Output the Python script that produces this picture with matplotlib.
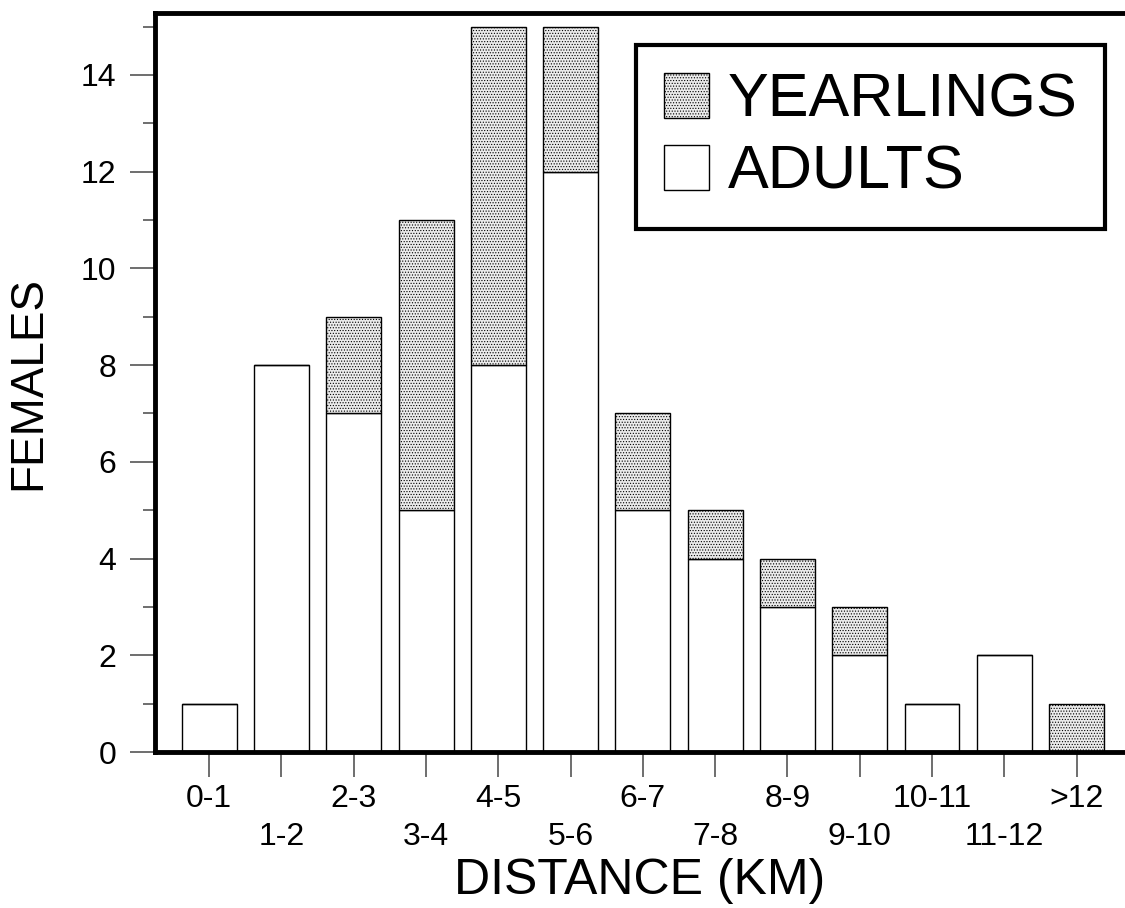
import matplotlib.pyplot as plt
from matplotlib.patches import Patch

plt.rcParams['font.family'] = ['Liberation Sans', 'DejaVu Sans']
plt.rcParams['hatch.color'] = '#d4d4d4'
plt.rcParams['hatch.linewidth'] = 0.5

cats = ["0-1","1-2","2-3","3-4","4-5","5-6","6-7","7-8","8-9","9-10","10-11","11-12",">12"]
adults = [1,8,7,5,8,12,5,4,3,2,1,2,0]
yearlings = [0,0,2,6,7,3,2,1,1,1,0,0,1]

fig = plt.figure(figsize=(11.25,9.08), dpi=100)
ax = fig.add_axes([155/1125, 1-752/908, (1125-155)/1125, (752-13)/908])

x = list(range(len(cats)))
ax.bar(x, adults, width=0.76, color='white', edgecolor='black', linewidth=1.0)
ax.bar(x, yearlings, width=0.76, bottom=adults, color='#ebebeb', edgecolor='black',
       linewidth=1.0, hatch='......')

ax.set_xlim(-0.75, 12.67)
ax.set_ylim(0, 15.28)

ax.spines['right'].set_visible(False)
for s in ['left','bottom','top']:
    ax.spines[s].set_linewidth(3.5)

ax.set_yticks([0,2,4,6,8,10,12,14])
ax.set_yticks([1,3,5,7,9,11,13,15], minor=True)
ax.tick_params(axis='y', which='major', length=18, width=1.2, color='#555555', labelsize=23, pad=10)
ax.tick_params(axis='y', which='minor', length=9, width=1.2, color='#555555')

ax.set_xticks(x)
labs = [c if i % 2 == 0 else '\n' + c for i, c in enumerate(cats)]
ax.set_xticklabels(labs, fontsize=23, linespacing=1.35)
ax.tick_params(axis='x', length=18, width=1.2, color='#555555', pad=5)

ax.set_ylabel('FEMALES', fontsize=33, labelpad=22)
ax.set_xlabel('DISTANCE (KM)', fontsize=36, labelpad=4)

handles = [Patch(facecolor='#ebebeb', edgecolor='black', hatch='......', linewidth=1.0),
           Patch(facecolor='white', edgecolor='black', linewidth=1.0)]
leg = ax.legend(handles, ['YEARLINGS', 'ADULTS'], loc='upper left',
                bbox_to_anchor=((636-155)/970, (752-45)/739), fontsize=44,
                handlelength=0.75, handleheight=0.75, handletextpad=0.3,
                borderpad=0.45, labelspacing=0.25, fancybox=False, framealpha=1,
                edgecolor='black', borderaxespad=0)
leg.get_frame().set_linewidth(3)

fig.savefig('out.png', dpi=100)
